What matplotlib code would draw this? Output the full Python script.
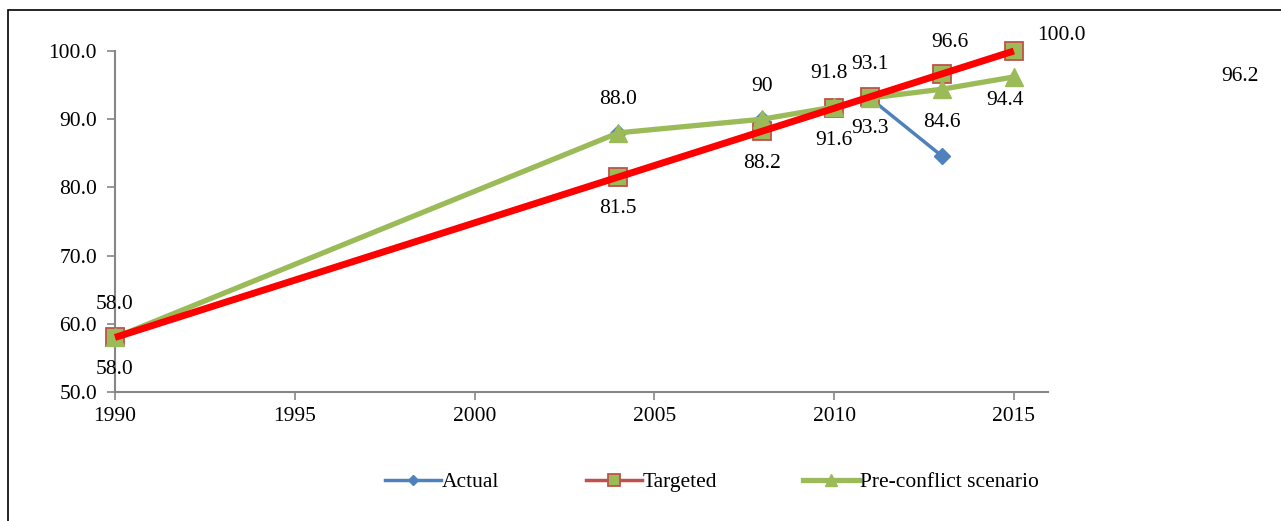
import matplotlib.pyplot as plt
from matplotlib.patches import Rectangle

plt.rcParams['font.family'] = ['Liberation Serif', 'DejaVu Serif']

# data
years = [1990, 2004, 2008, 2010, 2011, 2013, 2015]
actual_years = [1990, 2004, 2008, 2010, 2011, 2013]
actual = [58.0, 88.0, 90.0, 91.8, 93.1, 84.6]
targeted = [58.0, 81.5, 88.2, 91.6, 93.3, 96.6, 100.0]
preconflict = [58.0, 88.0, 90.0, 91.8, 93.1, 94.4, 96.2]

actual_labels = ['58.0', '88.0', '90', '91.8', '93.1', '84.6']
targeted_labels = ['58.0', '81.5', '88.2', '91.6', '93.3', '96.6', '100.0']

fig = plt.figure(figsize=(12.81, 5.21), dpi=100)
fig.patches.append(Rectangle((8 / 1281, -0.01), 1.0, 1 - 10 / 521 + 0.01,
                             transform=fig.transFigure, fill=False,
                             edgecolor='black', linewidth=1.2))
ax = fig.add_axes([115 / 1281, 1 - 392 / 521, (1048 - 115) / 1281, (392 - 51) / 521])

blue = '#4F81BD'
redc = '#C0504D'
green = '#9BBB59'

ax.plot(actual_years, actual, color=blue, lw=2.5, marker='D', ms=8,
        label='Actual', zorder=2, clip_on=False)
ax.plot(years, targeted, color=redc, lw=2.5, marker='s', ms=13,
        mfc=green, mec=redc, mew=1.3, label='Targeted', zorder=3, clip_on=False)
ax.plot(years, preconflict, color=green, lw=3.8, marker='^', ms=13,
        label='Pre-conflict scenario', zorder=4, clip_on=False)
# linear trend of the target, drawn in bright red
ax.plot([years[0], years[-1]], [targeted[0], targeted[-1]], color='#FF0000',
        lw=5, zorder=5, solid_capstyle='butt', clip_on=False)

fs = 15.5
# labels of the actual series, above the points
for x, y, t in zip(actual_years, actual, actual_labels):
    dx = -4 if t == '91.8' else 0
    ax.annotate(t, (x, y), xytext=(dx, 17), textcoords='offset points',
                ha='center', va='bottom', fontsize=fs)
# labels of the target series
offs = [(0, -16), (0, -16), (0, -16), (0, -16), (0, -16), (6, 16), (34, 4)]
for x, y, t, o in zip(years, targeted, targeted_labels, offs):
    ax.annotate(t, (x, y), xytext=o, textcoords='offset points', ha='center',
                va='top' if o[1] < 0 else 'bottom', fontsize=fs)
# pre-conflict labels
ax.text(2014.75, 94.2, '94.4', ha='center', va='top', fontsize=fs)
ax.text(2021.3, 96.2, '96.2', ha='center', va='center', fontsize=fs)

ax.set_xlim(1990, 2015.95)
ax.set_ylim(50, 100)
ax.set_xticks([1990, 1995, 2000, 2005, 2010, 2015])
ax.set_yticks([50, 60, 70, 80, 90, 100])
ax.set_yticklabels(['%.1f' % v for v in [50, 60, 70, 80, 90, 100]])
ax.tick_params(labelsize=fs, color='#868686', length=6, width=1.2)
for s in ['top', 'right']:
    ax.spines[s].set_visible(False)
for s in ['left', 'bottom']:
    ax.spines[s].set_color('#868686')
    ax.spines[s].set_linewidth(1.5)
ax.tick_params(axis='x', pad=5)
ax.tick_params(axis='y', pad=7)

h, l = ax.get_legend_handles_labels()
fig.legend(h, l, loc='center', bbox_to_anchor=(0.556, 1 - 482 / 521), ncol=3,
           frameon=False, fontsize=fs, columnspacing=4.0, handlelength=2.6,
           handletextpad=0.05, markerscale=0.7)

fig.savefig('out.png', dpi=100)
